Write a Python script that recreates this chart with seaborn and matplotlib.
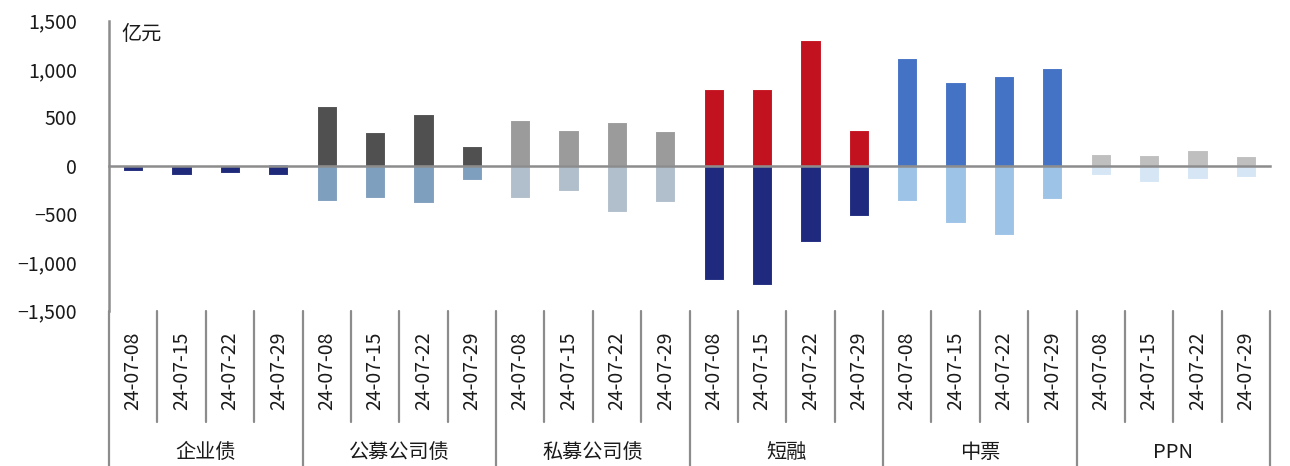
import numpy as np
import pandas as pd
import matplotlib
matplotlib.use("Agg")
import matplotlib.pyplot as plt
import matplotlib.transforms as mtransforms
from matplotlib.lines import Line2D
import seaborn as sns

# ---- data (亿元): weekly issuance (positive) and repayment (negative) ----
categories = ["企业债", "公募公司债", "私募公司债", "短融", "中票", "PPN"]
weeks = ["24-07-08", "24-07-15", "24-07-22", "24-07-29"]

qiyezhai_issue = [0, 0, 0, 20]
qiyezhai_repay = [-50, -95, -72, -95]
gongmu_issue = [615, 345, 535, 200]
gongmu_repay = [-362, -335, -390, -148]
simu_issue = [476, 373, 455, 362]
simu_repay = [-335, -259, -483, -376]
duanrong_issue = [794, 794, 1298, 373]
duanrong_repay = [-1180, -1235, -793, -517]
zhongpiao_issue = [1112, 863, 928, 1008]
zhongpiao_repay = [-369, -593, -717, -345]
ppn_issue = [121, 108, 159, 97]
ppn_repay = [-100, -169, -141, -117]

issue_values = [qiyezhai_issue, gongmu_issue, simu_issue,
                duanrong_issue, zhongpiao_issue, ppn_issue]
repay_values = [qiyezhai_repay, gongmu_repay, simu_repay,
                duanrong_repay, zhongpiao_repay, ppn_repay]

issue_colors = ["#6F8FCB", "#505050", "#9B9B9B", "#C3121F", "#4472C4", "#BFBFBF"]
repay_colors = ["#1F2A7A", "#7F9FBF", "#B1BFCC", "#1F2A7E", "#9DC3E6", "#D6E6F5"]

# ---- long table, one row per (category, week) slot ----
rows = []
for cat, iss, rep, ci, cr in zip(categories, issue_values, repay_values,
                                 issue_colors, repay_colors):
    for wk, v_i, v_r in zip(weeks, iss, rep):
        rows.append({"slot": f"{cat}|{wk}", "category": cat, "week": wk,
                     "issue": v_i, "repay": v_r, "c_issue": ci, "c_repay": cr})
df = pd.DataFrame(rows)
slots = list(df["slot"])

sns.set_theme(style="white")
plt.rcParams["font.family"] = ["Noto Sans CJK SC", "DejaVu Sans"]
plt.rcParams["axes.unicode_minus"] = True

axis_gray = "#8C8C8C"
text_color = "#1A1A1A"

fig = plt.figure(figsize=(12.9, 4.66), dpi=100)
ax = fig.add_axes([109 / 1290, 1 - 310.7 / 466, 1161 / 1290, 290 / 466])

for col, ccol in (("issue", "c_issue"), ("repay", "c_repay")):
    sns.barplot(data=df, x="slot", y=col, hue="slot", order=slots, hue_order=slots,
                palette=dict(zip(df["slot"], df[ccol])), saturation=1,
                width=0.42, errorbar=None, legend=False, ax=ax,
                edgecolor="white", linewidth=0.8)

n = len(slots)
ax.set_xlim(-0.5, n - 0.5)
ax.set_ylim(-1500, 1500)

# y axis
yticks = list(range(-1500, 1501, 500))
ax.set_yticks(yticks)
ax.set_yticklabels([f"{v:,}".replace("-", "\u2212") for v in yticks],
                   fontsize=14, color=text_color)
ax.tick_params(axis="y", direction="in", length=5, width=1.5, color=axis_gray, pad=23)
ax.set_ylabel("")

# x axis line at zero with ticks on slot boundaries
ax.spines["bottom"].set_position(("data", 0))
ax.set_xticks(np.arange(-0.5, n, 1.0))
ax.set_xticklabels([""] * (n + 1))
ax.tick_params(axis="x", direction="out", length=5, width=1.5, color=axis_gray)
ax.set_xlabel("")

for side in ("top", "right"):
    ax.spines[side].set_visible(False)
for side in ("left", "bottom"):
    ax.spines[side].set_color(axis_gray)
    ax.spines[side].set_linewidth(1.8)
    ax.spines[side].set_zorder(5)

ax.text(0.0105, 0.951, "亿元", transform=ax.transAxes, ha="left", va="center",
        fontsize=14.5, color=text_color)

# two-level category labels beneath the plot
trans = mtransforms.blended_transform_factory(ax.transData, ax.transAxes)
fig_bottom = -(466 - 310.7) / 290
short_bottom = -(422 - 310.7) / 290
for b in range(n + 1):
    y_end = fig_bottom if b % len(weeks) == 0 else short_bottom
    ax.add_line(Line2D([b - 0.5, b - 0.5], [0, y_end], transform=trans,
                       color=axis_gray, lw=1.6, clip_on=False))

for i, wk in enumerate(df["week"]):
    ax.text(i, -(371 - 310.7) / 290, wk, transform=trans, rotation=90,
            ha="center", va="center", fontsize=14, color=text_color)

for j, cat in enumerate(categories):
    ax.text(j * len(weeks) + (len(weeks) - 1) / 2, -(452 - 310.7) / 290, cat,
            transform=trans, ha="center", va="center", fontsize=14.5, color=text_color)

fig.savefig("out.png", dpi=100)
